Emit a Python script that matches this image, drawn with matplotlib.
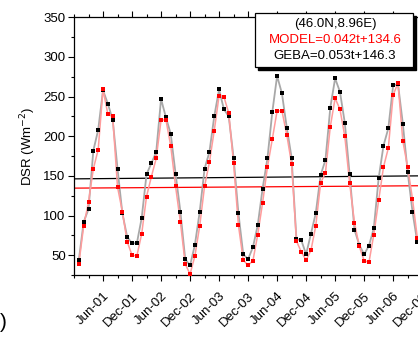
import numpy as np
import matplotlib
matplotlib.use('Agg')
import matplotlib.pyplot as plt
from matplotlib.patches import Rectangle

plt.rcParams['font.family'] = ['Liberation Sans', 'DejaVu Sans']

# monthly DSR, Jan-2001 .. Nov-2006 (t = 0 at Jan-01)
geba = [44, 92, 108, 182, 208, 258, 241, 221, 159, 103, 73, 65,
        65, 97, 152, 166, 180, 247, 224, 203, 153, 105, 45, 37,
        63, 105, 159, 180, 225, 259, 234, 225, 173, 103, 51, 45,
        60, 88, 134, 172, 230, 276, 254, 211, 173, 70, 69, 51,
        77, 103, 151, 170, 236, 273, 256, 217, 152, 82, 63, 51,
        62, 84, 147, 188, 210, 264, 266, 216, 155, 105, 66]
model = [39, 87, 117, 159, 183, 259, 228, 225, 136, 105, 67, 50,
         49, 77, 124, 149, 172, 220, 221, 188, 137, 92, 39, 26,
         49, 87, 137, 167, 207, 251, 250, 229, 166, 88, 44, 37,
         43, 76, 116, 161, 196, 232, 232, 202, 165, 68, 54, 44,
         56, 87, 141, 154, 212, 248, 234, 200, 141, 91, 61, 43,
         41, 76, 119, 161, 185, 252, 267, 194, 161, 121, 72]

tick_labels = ['Jun-01', 'Dec-01', 'Jun-02', 'Dec-02', 'Jun-03', 'Dec-03',
               'Jun-04', 'Dec-04', 'Jun-05', 'Dec-05', 'Jun-06', 'Dec-06']
tick_months = [5, 11, 17, 23, 29, 35, 41, 47, 53, 59, 65, 71]

model_slope, model_icpt = 0.042, 134.6
geba_slope, geba_icpt = 0.053, 146.3

t = np.arange(len(geba))
fs = 9.5

fig = plt.figure(figsize=(4.18, 3.41), dpi=100)
# axes runs past the right edge, like the cropped original
ax = fig.add_axes([74 / 418, 66 / 341, 353 / 418, 257.7 / 341])

ax.plot(t, geba, color='#a8a8a8', lw=1.3, zorder=2)
ax.plot(t, model, color='#ff9c9c', lw=1.1, zorder=3)
ax.plot(t, geba, 's', color='black', ms=2.8, mew=0, zorder=4)
ax.plot(t, model, 's', color='red', ms=2.8, mew=0, zorder=5)

tt = np.array([-1, 75])
ax.plot(tt, geba_slope * tt + geba_icpt, color='black', lw=0.9, zorder=1)
ax.plot(tt, model_slope * tt + model_icpt, color='red', lw=0.9, zorder=1)

ax.set_xlim(-1, 72)
ax.set_ylim(25, 350)
ax.set_xticks(tick_months)
ax.set_xticklabels(tick_labels, rotation=45, ha='right', rotation_mode='anchor',
                   fontsize=fs)
ax.set_xticks(np.arange(-1, 72, 3), minor=True)
ax.set_yticks(np.arange(50, 351, 50))
ax.set_yticks(np.arange(25, 351, 25), minor=True)
ax.tick_params(axis='y', labelsize=fs, length=4, width=0.8, pad=2)
ax.tick_params(axis='y', which='minor', length=2, width=0.8)
ax.tick_params(axis='x', which='major', length=4, width=0.8, top=True, pad=7)
ax.tick_params(axis='x', which='minor', length=2, width=0.8, top=True)
ax.spines['right'].set_visible(False)
for s in ['left', 'bottom', 'top']:
    ax.spines[s].set_linewidth(0.9)
ax.set_ylabel('DSR (Wm$^{-2}$)', fontsize=fs, labelpad=4)

# info box with shadow
fig.add_artist(Rectangle((258 / 418, (341 - 69.7) / 341), 158 / 418, 54 / 341,
                         transform=fig.transFigure, facecolor='black',
                         edgecolor='black', zorder=10))
fig.add_artist(Rectangle((255 / 418, (341 - 66.7) / 341), 158 / 418, 54 / 341,
                         transform=fig.transFigure, facecolor='white',
                         edgecolor='black', lw=0.9, zorder=11))
fig.text(335 / 418, 1 - 24 / 341, '(46.0N,8.96E)', ha='center', va='center',
         fontsize=fs, zorder=12)
fig.text(335 / 418, 1 - 40 / 341, 'MODEL=%.3ft+%.1f' % (model_slope, model_icpt),
         ha='center', va='center', fontsize=fs, color='red', zorder=12)
fig.text(335 / 418, 1 - 56 / 341, 'GEBA=%.3ft+%.1f' % (geba_slope, geba_icpt),
         ha='center', va='center', fontsize=fs, zorder=12)

fig.text(0.0, 1 - 322 / 341, ')', ha='left', va='center', fontsize=15)

fig.savefig('out.png', dpi=100)
